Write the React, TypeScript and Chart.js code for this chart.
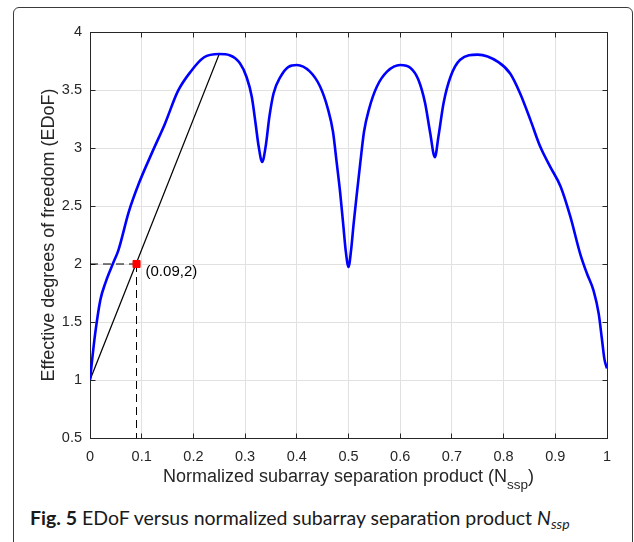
import React, { useEffect, useRef } from "react";
import { Chart, registerables } from "chart.js";

Chart.register(...registerables);

// ---- data ----
const nssp = [
  0, 0.005, 0.01, 0.02, 0.03, 0.045, 0.055, 0.075, 0.095, 0.12, 0.145, 0.17, 0.195, 0.22, 0.25,
  0.27, 0.29, 0.303, 0.313, 0.32, 0.326, 0.333, 0.34, 0.347, 0.355, 0.368, 0.384, 0.4,
  0.425, 0.445, 0.46, 0.47, 0.477, 0.484, 0.49, 0.495, 0.5, 0.505, 0.51, 0.516, 0.523, 0.53,
  0.54, 0.555, 0.575, 0.6, 0.62, 0.635, 0.648, 0.658, 0.667, 0.674, 0.684, 0.697, 0.716,
  0.75, 0.79, 0.813, 0.832, 0.852, 0.871, 0.89, 0.91, 0.929, 0.948, 0.961, 0.974, 0.984,
  0.99, 0.995, 1.0,
];
const edof = [
  1.0, 1.21, 1.4, 1.69, 1.84, 2.01, 2.12, 2.45, 2.7, 2.96, 3.21, 3.49, 3.66, 3.78, 3.81,
  3.8, 3.73, 3.61, 3.44, 3.22, 3.02, 2.88, 3.02, 3.27, 3.47, 3.61, 3.7, 3.715,
  3.66, 3.53, 3.34, 3.14, 2.88, 2.61, 2.33, 2.1, 1.975, 2.12, 2.35, 2.6, 2.88, 3.14,
  3.34, 3.53, 3.66, 3.715, 3.69, 3.59, 3.39, 3.13, 2.92, 3.1, 3.39, 3.61, 3.76,
  3.805, 3.74, 3.64, 3.47, 3.24, 3.01, 2.84, 2.67, 2.41, 2.09, 1.92, 1.77, 1.57,
  1.36, 1.18, 1.1,
];
const chordX = [0, 0.25];
const chordY = [1, 3.81];
const markX = 0.09;
const markY = 2;
const axisMinY = 0.5;
const xTickValues = [0, 0.1, 0.2, 0.3, 0.4, 0.5, 0.6, 0.7, 0.8, 0.9, 1];
const xTickLabels = ["0", "0.1", "0.2", "0.3", "0.4", "0.5", "0.6", "0.7", "0.8", "0.9", "1"];
const yTickValues = [0.5, 1, 1.5, 2, 2.5, 3, 3.5, 4];
const yTickLabels = ["0.5", "1", "1.5", "2", "2.5", "3", "3.5", "4"];
const xTitleMain = "Normalized subarray separation product (N";
const xTitleSub = "ssp";
const xTitleEnd = ")";
const yTitle = "Effective degrees of freedom (EDoF)";
const markLabel = "(0.09,2)";

const W = 634;
const H = 500;
const FONT = '"Liberation Sans", Arial, Helvetica, sans-serif';
const TEXT = "#262626";
const AXIS = "#262626";
const GRID = "#e1e1e1";

export default function App() {
  const ref = useRef<HTMLCanvasElement>(null);

  useEffect(() => {
    const canvas = ref.current;
    if (!canvas) return;

    const align = (p: number) => Math.round(p - 0.5) + 0.5;

    const matlabBox = {
      id: "matlabBox",
      beforeDatasetsDraw(chart: any) {
        const { ctx, chartArea } = chart;
        const { left, right, top, bottom } = chartArea;
        const xs = chart.scales.x;
        const ys = chart.scales.y;
        const L = align(left), R = align(right), T = align(top), B = align(bottom);
        ctx.save();
        ctx.strokeStyle = AXIS;
        ctx.lineWidth = 1;
        ctx.beginPath();
        ctx.moveTo(L, T); ctx.lineTo(R, T); ctx.lineTo(R, B);
        const tl = 5;
        xTickValues.forEach((v) => {
          const px = align(xs.getPixelForValue(v));
          ctx.moveTo(px, B); ctx.lineTo(px, B - tl);
          ctx.moveTo(px, T); ctx.lineTo(px, T + tl);
        });
        yTickValues.forEach((v) => {
          const py = align(ys.getPixelForValue(v));
          ctx.moveTo(L, py); ctx.lineTo(L + tl, py);
          ctx.moveTo(R, py); ctx.lineTo(R - tl, py);
        });
        ctx.stroke();
        ctx.restore();
      },
      afterDraw(chart: any) {
        const { ctx, chartArea } = chart;
        const { left, right } = chartArea;
        const xs = chart.scales.x;
        const ys = chart.scales.y;
        ctx.save();
        ctx.fillStyle = TEXT;
        ctx.textBaseline = "alphabetic";
        ctx.textAlign = "left";
        // x axis title with subscript
        const fMain = `18px ${FONT}`;
        const fSub = `13.5px ${FONT}`;
        ctx.font = fMain;
        const wMain = ctx.measureText(xTitleMain).width;
        const wEnd = ctx.measureText(xTitleEnd).width;
        ctx.font = fSub;
        const wSub = ctx.measureText(xTitleSub).width;
        let cx = (left + right) / 2 - (wMain + wSub + wEnd) / 2;
        const base = 482;
        ctx.font = fMain;
        ctx.fillText(xTitleMain, cx, base);
        cx += wMain;
        ctx.font = fSub;
        ctx.fillText(xTitleSub, cx, base + 7);
        cx += wSub;
        ctx.font = fMain;
        ctx.fillText(xTitleEnd, cx, base);
        // marker label
        ctx.font = `15px ${FONT}`;
        ctx.textBaseline = "middle";
        ctx.fillStyle = "#000";
        ctx.fillText(markLabel, xs.getPixelForValue(markX) + 9, ys.getPixelForValue(markY) + 8);
        ctx.restore();
      },
    };

    const chart = new Chart(canvas, {
      type: "scatter",
      data: {
        datasets: [
          {
            label: "marker",
            data: [{ x: markX, y: markY }],
            pointStyle: "rect",
            pointRadius: 5,
            pointBackgroundColor: "#ff0000",
            pointBorderColor: "#ff0000",
            pointBorderWidth: 1,
            showLine: false,
          },
          {
            label: "EDoF",
            data: nssp.map((x, i) => ({ x, y: edof[i] })),
            showLine: true,
            borderColor: "#0000ff",
            borderWidth: 2.6,
            pointRadius: 0,
            cubicInterpolationMode: "monotone",
            fill: false,
          },
          {
            label: "chord",
            data: chordX.map((x, i) => ({ x, y: chordY[i] })),
            showLine: true,
            borderColor: "#000000",
            borderWidth: 1.2,
            pointRadius: 0,
          },
          {
            label: "h-guide",
            data: [{ x: xTickValues[0], y: markY }, { x: markX, y: markY }],
            showLine: true,
            borderColor: "#000000",
            borderWidth: 1,
            borderDash: [8, 5],
            pointRadius: 0,
          },
          {
            label: "v-guide",
            data: [{ x: markX, y: markY }, { x: markX, y: axisMinY }],
            showLine: true,
            borderColor: "#000000",
            borderWidth: 1,
            borderDash: [8, 5],
            pointRadius: 0,
          },
        ],
      },
      options: {
        responsive: false,
        animation: false,
        devicePixelRatio: 1,
        layout: { padding: { left: 0, right: 27, top: 32, bottom: 0 } },
        plugins: { legend: { display: false }, tooltip: { enabled: false } },
        scales: {
          x: {
            type: "linear",
            min: 0,
            max: 1,
            afterBuildTicks: (s: any) => {
              s.ticks = xTickValues.map((v) => ({ value: v }));
            },
            afterFit: (s: any) => {
              s.height = H - 438;
            },
            ticks: {
              autoSkip: false,
              maxRotation: 0,
              padding: 10,
              color: TEXT,
              font: { family: FONT, size: 14.5 },
              callback: (_v: any, i: number) => xTickLabels[i],
            },
            grid: { color: GRID, lineWidth: 1, drawTicks: false },
            border: { display: true, color: AXIS, width: 1 },
          },
          y: {
            type: "linear",
            min: 0.5,
            max: 4,
            afterBuildTicks: (s: any) => {
              s.ticks = yTickValues.map((v) => ({ value: v }));
            },
            afterFit: (s: any) => {
              s.width = 90;
            },
            ticks: {
              autoSkip: false,
              padding: 8,
              color: TEXT,
              font: { family: FONT, size: 14.5 },
              callback: (_v: any, i: number) => yTickLabels[i],
            },
            grid: { color: GRID, lineWidth: 1, drawTicks: false },
            border: { display: true, color: AXIS, width: 1 },
            title: {
              display: true,
              text: yTitle,
              color: TEXT,
              font: { family: FONT, size: 18, lineHeight: 1.2 },
              padding: { top: 38, bottom: 0 },
            },
          },
        },
      },
      plugins: [matlabBox],
    } as any);

    return () => chart.destroy();
  }, []);

  return (
    <div
      style={{
        position: "fixed",
        left: 0,
        top: 0,
        width: 634,
        height: 542,
        background: "#ffffff",
        overflow: "hidden",
      }}
    >
      <div
        style={{
          position: "absolute",
          left: 13,
          top: 7,
          width: 620,
          height: 600,
          border: "1px solid #3a3a3a",
          borderRadius: 6,
          boxSizing: "border-box",
        }}
      />
      <canvas
        ref={ref}
        width={W}
        height={H}
        style={{ position: "absolute", left: 0, top: 0, width: W, height: H }}
      />
      <div
        style={{
          position: "absolute",
          left: 30,
          top: 508,
          fontFamily: "Lato, sans-serif",
          fontSize: 19.5,
          lineHeight: "19.5px",
          color: "#1a1a1a",
          whiteSpace: "nowrap",
        }}
      >
        <b>Fig. 5</b> EDoF versus normalized subarray separation product{" "}
        <i>
          N<sub style={{ fontSize: "0.72em", lineHeight: 0, verticalAlign: "-0.28em" }}>ssp</sub>
        </i>
      </div>
    </div>
  );
}
